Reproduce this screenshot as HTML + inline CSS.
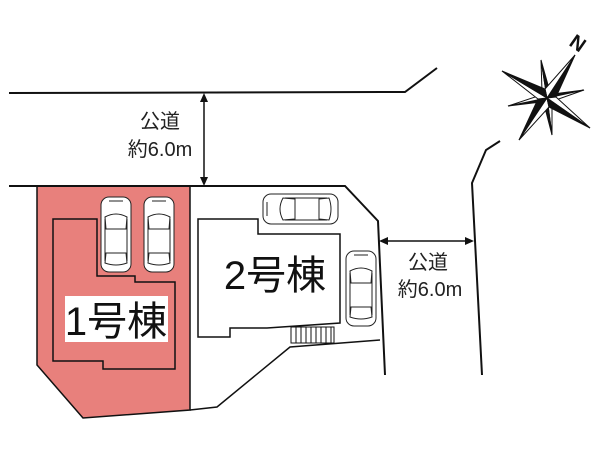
<!DOCTYPE html>
<html><head><meta charset="utf-8"><style>
html,body{margin:0;padding:0;background:#fff;}
svg{display:block;}
text{font-family:"Liberation Sans","Noto Sans CJK JP",sans-serif;}
</style></head><body>
<svg width="600" height="450" viewBox="0 0 600 450" xmlns="http://www.w3.org/2000/svg">
<defs>
<g id="car" fill="#fff" stroke="#222" stroke-width="1">
  <rect x="0" y="0" width="30" height="75" rx="8"/>
  <path d="M4 20 Q15 14 26 20 L25 32 L5 32 Z" fill="none"/>
  <path d="M5 56 L25 56 L26 66 Q15 70 4 66 Z" fill="none"/>
  <line x1="4" y1="22" x2="4" y2="64"/>
  <line x1="26" y1="22" x2="26" y2="64"/>
  <line x1="8" y1="4" x2="22" y2="4"/>
</g>
</defs>
<polygon points="37,186 190,186 190,410 83,418 37,365" fill="#e8807c" stroke="#111" stroke-width="1.5"/>
<polyline points="190,186 345,186 378,221 385,375" fill="none" stroke="#111" stroke-width="2"/>
<polyline points="190,410 217,407 290,347 380,340" fill="none" stroke="#111" stroke-width="1.5"/>
<line x1="9" y1="186" x2="345" y2="186" stroke="#111" stroke-width="2"/>
<polyline points="9,93 405,92 437,68" fill="none" stroke="#111" stroke-width="2"/>
<line x1="204" y1="96" x2="204" y2="183" stroke="#111" stroke-width="1.5"/>
<polygon points="204,93 200,102 208,102" fill="#111"/>
<polygon points="204,186 200,177 208,177" fill="#111"/>
<text x="160" y="128" font-size="20" text-anchor="middle" fill="#222">公道</text>
<text x="160" y="156" font-size="20" text-anchor="middle" fill="#222">約6.0m</text>
<polyline points="500,141 486,150 472,183 482,375" fill="none" stroke="#111" stroke-width="2"/>
<line x1="383" y1="241" x2="471" y2="241" stroke="#111" stroke-width="1.5"/>
<polygon points="379,241 388,237 388,245" fill="#111"/>
<polygon points="474,241 465,237 465,245" fill="#111"/>
<text x="428" y="269" font-size="20" text-anchor="middle" fill="#222">公道</text>
<text x="430" y="296" font-size="20" text-anchor="middle" fill="#222">約6.0m</text>
<polygon points="53,219 97,219 97,276 135,276 135,282 175,282 175,369 103,369 103,361 53,361" fill="none" stroke="#111" stroke-width="1.5"/>
<rect x="65" y="296" width="103" height="46" fill="#fff"/>
<text x="116" y="335" font-size="40" text-anchor="middle" fill="#111">1号棟</text>
<polygon points="198,219 258,219 258,234 340,234 340,323 267,328 230,328 230,337 198,337" fill="#fff" stroke="#111" stroke-width="1.5"/>
<text x="275" y="289" font-size="40" text-anchor="middle" fill="#111">2号棟</text>
<g stroke="#111" stroke-width="1" fill="none">
<rect x="291" y="327" width="43" height="16"/>
<line x1="296" y1="327" x2="296" y2="343"/><line x1="301" y1="327" x2="301" y2="343"/>
<line x1="306" y1="327" x2="306" y2="343"/><line x1="311" y1="327" x2="311" y2="343"/>
<line x1="316" y1="327" x2="316" y2="343"/><line x1="321" y1="327" x2="321" y2="343"/>
<line x1="326" y1="327" x2="326" y2="343"/><line x1="331" y1="327" x2="331" y2="343"/>
</g>
<use href="#car" x="101" y="197"/>
<use href="#car" x="144" y="197"/>
<use href="#car" transform="translate(263,224) rotate(-90)"/>
<use href="#car" x="346" y="251"/>
<g stroke="#111" stroke-width="1" stroke-linejoin="miter">
  <!-- short arms -->
  <polygon points="547,98 541,60 542,92" fill="#fff"/>
  <polygon points="547,98 541,60 550,92" fill="#111"/>
  <polygon points="547,98 552,135 552,104" fill="#fff"/>
  <polygon points="547,98 552,135 544,104" fill="#111"/>
  <polygon points="547,98 584,90 553,94" fill="#111"/>
  <polygon points="547,98 584,90 553,101" fill="#fff"/>
  <polygon points="547,98 508,106 541,102" fill="#111"/>
  <polygon points="547,98 508,106 541,95" fill="#fff"/>
  <!-- long arms -->
  <polygon points="547,98 575,55 556,97" fill="#111"/>
  <polygon points="547,98 575,55 545,89" fill="#fff"/>
  <polygon points="547,98 519,140 538,99" fill="#111"/>
  <polygon points="547,98 519,140 549,107" fill="#fff"/>
  <polygon points="547,98 502,71 538,99" fill="#fff"/>
  <polygon points="547,98 502,71 545,89" fill="#111"/>
  <polygon points="547,98 590,128 556,97" fill="#fff"/>
  <polygon points="547,98 590,128 549,107" fill="#111"/>
</g>
<text x="578" y="50" font-size="20" font-weight="bold" fill="#111" transform="rotate(35 578 43)" text-anchor="middle">N</text>
</svg>
</body></html>
